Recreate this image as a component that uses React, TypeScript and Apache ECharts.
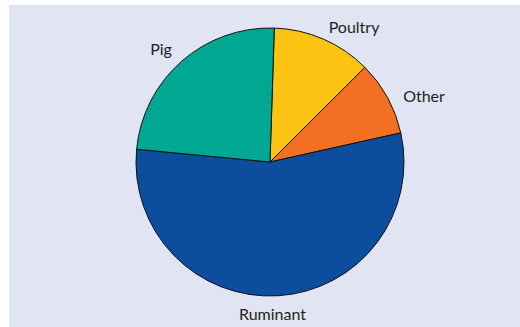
import React, { useEffect, useRef } from "react";
import * as echarts from "echarts";

const categories = ["Poultry", "Other", "Ruminant", "Pig"];
const shares = [12, 9, 55, 24];
const colors = ["#fdc312", "#f27022", "#0c4d9e", "#00a793"];
// label centres (px within chart div)
const labelPos: [number, number][] = [
  [345, 21.5],
  [415, 90],
  [263.5, 308],
  [152, 43.5],
];

export default function App() {
  const ref = useRef<HTMLDivElement>(null);
  useEffect(() => {
    if (!ref.current) return;
    const chart = echarts.init(ref.current, null, { renderer: "svg" });
    chart.setOption({
      animation: false,
      backgroundColor: "#e1e4f2",
      series: [
        {
          type: "pie",
          center: [261, 157],
          radius: 134,
          startAngle: 88.15,
          clockwise: true,
          data: categories.map((c, i) => ({
            name: c,
            value: shares[i],
            itemStyle: { color: colors[i] },
          })),
          itemStyle: { borderColor: "#111", borderWidth: 1 },
          label: {
            show: true,
            position: "outside",
            formatter: "{b}",
            color: "#231f20",
            fontFamily: "Lato",
            fontSize: 16,
          },
          labelLine: { show: false },
          labelLayout: (p: any) => ({
            x: labelPos[p.dataIndex][0],
            y: labelPos[p.dataIndex][1],
            align: "center",
            verticalAlign: "middle",
          }),
          emphasis: { disabled: true },
        },
      ],
    });
    return () => chart.dispose();
  }, []);
  return (
    <div
      ref={ref}
      style={{ position: "absolute", left: 9, top: 5, width: 511, height: 322 }}
    />
  );
}
